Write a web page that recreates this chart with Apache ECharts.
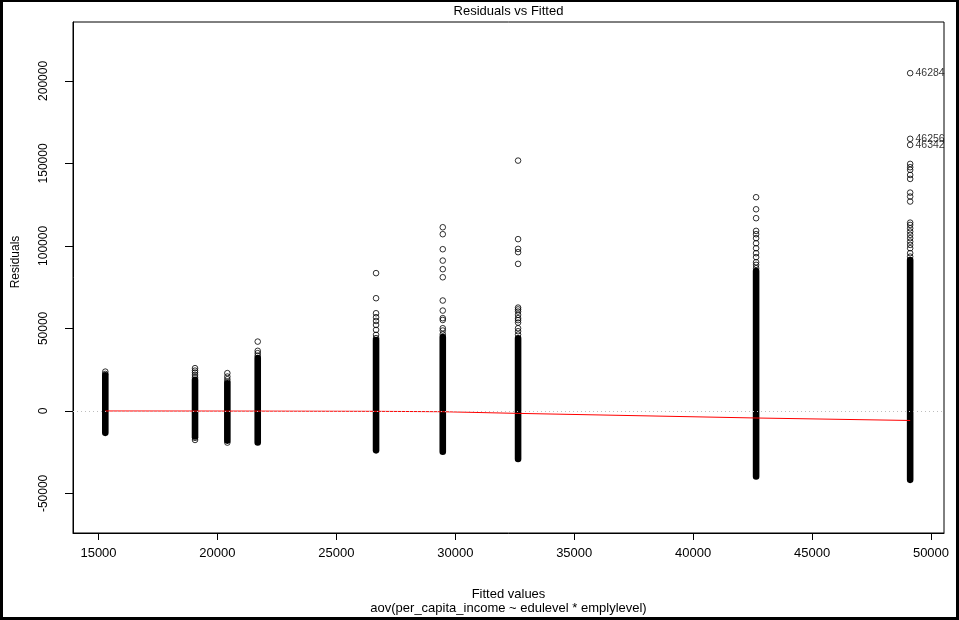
<!DOCTYPE html>
<html><head><meta charset="utf-8">
<script src="https://cdn.jsdelivr.net/npm/echarts@6/dist/echarts.min.js"></script>
<style>html,body{margin:0;padding:0;background:#fff}#c{width:959px;height:620px}</style>
</head><body><div id="c"></div>
<script>
// Fitted values (one column of residuals per group)
const fitted = [15286, 19058, 20417, 21694, 26669, 29474, 32640, 42647, 49124];
// Dense (solid) part of each column: lowest and highest residual
const bandLow  = [-13300, -15500, -18000, -19100, -23900, -24800, -29100, -39700, -41800];
const bandHigh = [21600, 18800, 16800, 32000, 43000, 44800, 44000, 84800, 91500];
// Individually visible residuals for each column
const outlierRes = [
  [23800, 22400],
  [25900, 24400, 23200, 21800, 20400, -16300, -17600],
  [22900, 20800, 19200, 17800, -19200],
  [42000, 36400, 35000, 33500],
  [83500, 68300, 59200, 56800, 54500, 52100, 49100, 46100, 44100],
  [111300, 107100, 98000, 91100, 85900, 81000, 66900, 60800, 56200, 55100, 50100, 48700, 46500],
  [151700, 104100, 98200, 96200, 89100, 62600, 61500, 60200, 58200, 56200, 55000, 53500, 50100, 48300, 46300],
  [129500, 122200, 116800, 109100, 107100, 104700, 101600, 98600, 95600, 93200, 90100, 88500, 86500],
  [149700, 147700, 146100, 143000, 140600, 132300, 129900, 126900, 114100, 112700, 110700, 108700, 106700, 104700, 102600, 100600, 98600, 95600, 93500]
];
// Labelled extreme residuals (all in the last column)
const idLabels = ['46284', '46256', '46342'];
const idRes = [204700, 164900, 161200];
// Smoothed (lowess) residual at each fitted value
const smooth = [-50, -80, -100, -120, -250, -500, -1500, -4300, -5800];
// Tick values
const xTicks = [15000, 20000, 25000, 30000, 35000, 40000, 45000, 50000];
const yTicks = [-50000, 0, 50000, 100000, 150000, 200000];

const FONT = 'Liberation Sans, Arial, sans-serif';

const bandData = fitted.map((f, i) => [f, bandLow[i], bandHigh[i]]);
const outlierData = [];
outlierRes.forEach((arr, i) => arr.forEach(r => outlierData.push([fitted[i], r])));
const idData = idLabels.map((l, i) => [fitted[fitted.length - 1], idRes[i], l]);
const smoothData = fitted.map((f, i) => [f, smooth[i]]);

const chart = echarts.init(document.getElementById('c'), null, {renderer: 'canvas'});
const circleStyle = {color: 'rgba(0,0,0,0)', borderColor: '#000', borderWidth: 1};

chart.setOption({
  animation: false,
  backgroundColor: '#fff',
  grid: {left: 73, right: 15, top: 22, bottom: 87, show: true, borderColor: '#000', borderWidth: 1, backgroundColor: 'transparent'},
  xAxis: {
    type: 'value', min: 13928, max: 50547,
    axisLine: {show: true, onZero: false, lineStyle: {color: '#000', width: 1}},
    axisTick: {show: true, length: 7, customValues: xTicks, lineStyle: {color: '#000', width: 1}},
    axisLabel: {customValues: xTicks, margin: 14, fontSize: 13, fontFamily: FONT, color: '#000', formatter: v => String(v)},
    splitLine: {show: false}
  },
  yAxis: {
    type: 'value', min: -74000, max: 235700,
    axisLine: {show: true, onZero: false, lineStyle: {color: '#000', width: 1}},
    axisTick: {show: true, length: 8, customValues: yTicks, lineStyle: {color: '#000', width: 1}},
    axisLabel: {customValues: yTicks, rotate: 90, margin: 23, fontSize: 12, fontFamily: FONT, color: '#000', formatter: v => String(v)},
    splitLine: {show: false}
  },
  series: [
    {
      type: 'custom', z: 2,
      data: bandData,
      encode: {x: 0, y: [1, 2]},
      renderItem: (params, api) => {
        const x = api.value(0), lo = api.value(1), hi = api.value(2);
        const p1 = api.coord([x, hi]), p2 = api.coord([x, lo]);
        const w = 6.6;
        return {type: 'rect', shape: {x: p1[0] - w / 2, y: p1[1] - w / 2, width: w, height: p2[1] - p1[1] + w, r: w / 2}, style: {fill: '#000'}};
      }
    },
    {
      type: 'scatter', z: 3, symbol: 'circle', symbolSize: 5.6,
      data: outlierData, itemStyle: circleStyle
    },
    {
      type: 'line', z: 4, data: smoothData, showSymbol: false, symbol: 'none',
      lineStyle: {color: '#ff0000', width: 1}
    },
    {
      type: 'scatter', z: 5, symbol: 'circle', symbolSize: 5.6,
      data: idData, itemStyle: circleStyle,
      label: {show: true, position: 'right', distance: 2, fontSize: 10.5, fontFamily: FONT, color: '#000', formatter: p => p.value[2]},
      markLine: {
        silent: true, symbol: 'none', label: {show: false},
        lineStyle: {color: '#bebebe', type: [1, 3], width: 1},
        data: [{yAxis: 0}]
      }
    }
  ],
  graphic: [
    {type: 'text', x: 508.5, y: 11, style: {text: 'Residuals vs Fitted', fontSize: 13, fontFamily: FONT, fill: '#000', align: 'center', verticalAlign: 'middle'}},
    {type: 'text', x: 16, y: 262, rotation: Math.PI / 2, style: {text: 'Residuals', fontSize: 12, fontFamily: FONT, fill: '#000', align: 'center', verticalAlign: 'middle'}},
    {type: 'text', x: 508.5, y: 594, style: {text: 'Fitted values', fontSize: 13, fontFamily: FONT, fill: '#000', align: 'center', verticalAlign: 'middle'}},
    {type: 'text', x: 508.5, y: 608.5, style: {text: 'aov(per_capita_income ~ edulevel * emplylevel)', fontSize: 13, fontFamily: FONT, fill: '#000', align: 'center', verticalAlign: 'middle'}},
    {type: 'rect', shape: {x: 0, y: 0, width: 3, height: 620}, style: {fill: '#000'}},
    {type: 'rect', shape: {x: 0, y: 0, width: 959, height: 2}, style: {fill: '#000'}},
    {type: 'rect', shape: {x: 0, y: 617, width: 959, height: 3}, style: {fill: '#000'}},
    {type: 'rect', shape: {x: 956, y: 0, width: 3, height: 620}, style: {fill: '#000'}}
  ]
});
</script></body></html>
